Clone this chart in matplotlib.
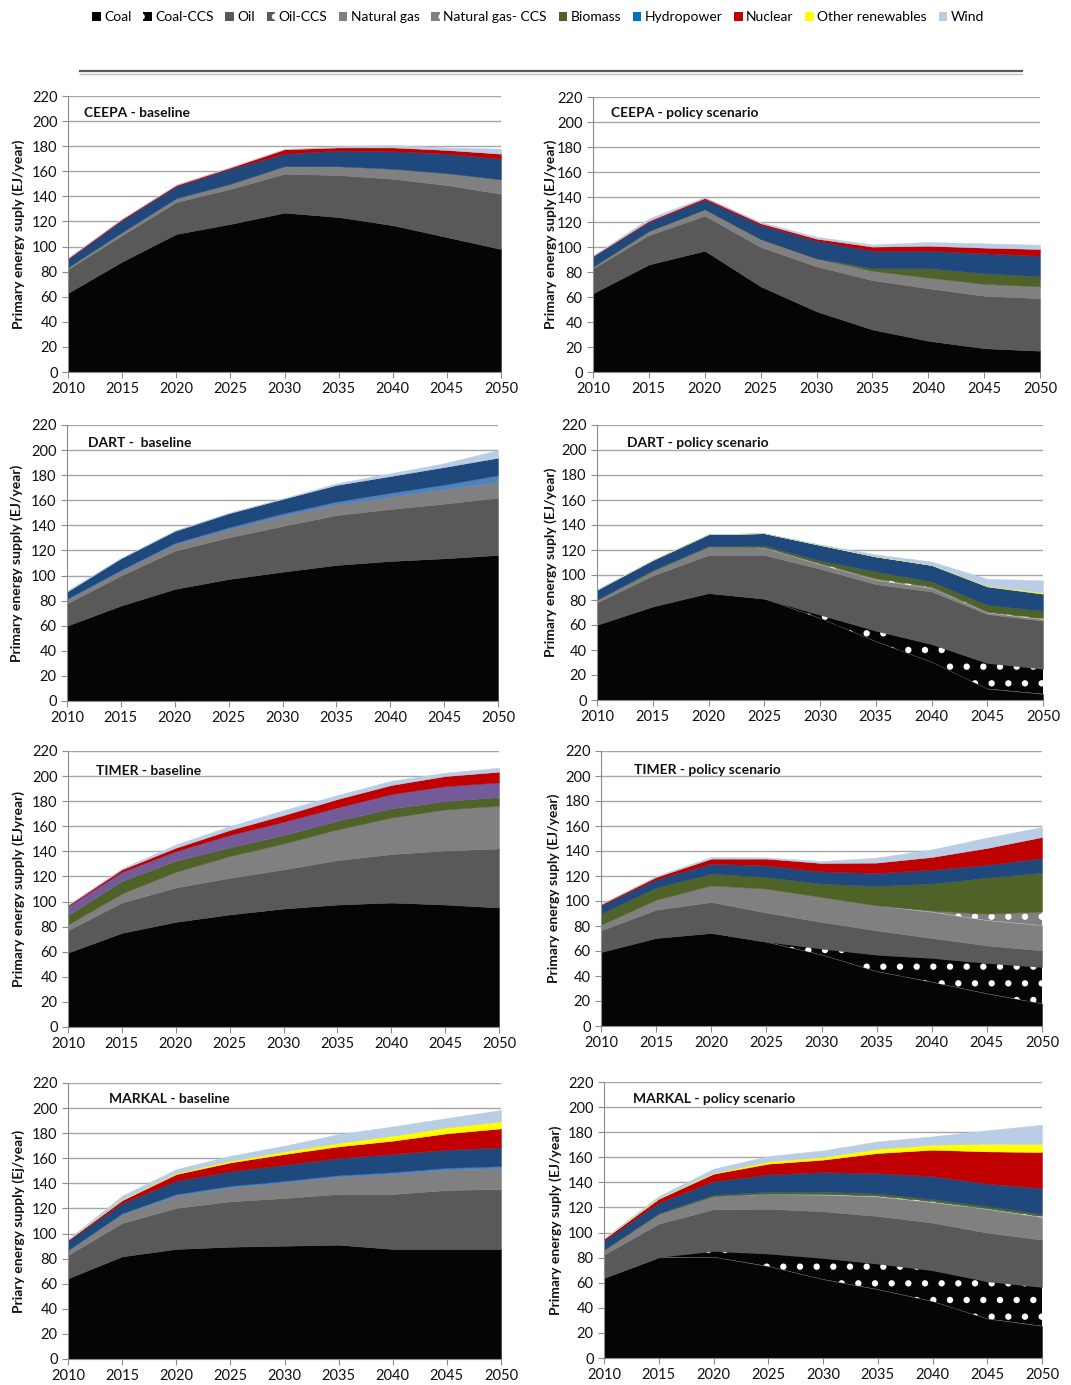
import matplotlib
matplotlib.use("Agg")
import matplotlib.hatch as mhatch
import matplotlib.pyplot as plt
from matplotlib.lines import Line2D
from matplotlib.patches import Patch

plt.rcParams["font.family"] = ["Lato", "DejaVu Sans"]
plt.rcParams["hatch.linewidth"] = 0.0

# larger dots than the stock "." hatch, closer to the Excel dot pattern
mhatch.SmallFilledCircles.size = 0.19

YEARS = [2010, 2015, 2020, 2025, 2030, 2035, 2040, 2045, 2050]

# stacked layers, bottom to top (EJ/year)
CEEPA_BASELINE = {
    "Coal": [63, 88, 110, 118, 127, 123.5, 117, 107.5, 98],
    "Oil": [19, 21, 25.5, 28, 31, 33.5, 37, 41.5, 44],
    "Natural gas": [1.5, 2.5, 3, 4, 6, 7, 8, 9.5, 11.5],
    "Hydropower": [6.5, 9.5, 9.5, 12, 10, 12.5, 14, 15.5, 16.5],
    "Nuclear": [0.7, 1, 1, 1, 3.5, 2.5, 3, 3, 4],
    "Wind": [0.3, 0.3, 0.5, 0.5, 0.5, 1, 2, 2, 4],
}
CEEPA_POLICY = {
    "Coal": [63, 86, 97, 68.5, 48.5, 34, 25, 19, 17],
    "Oil": [20, 23.5, 28, 31.5, 36, 39.5, 42, 42, 42],
    "Natural gas": [1.5, 3.5, 5.4, 6.5, 6.5, 7.5, 8.5, 9.5, 9.5],
    "Biomass": [0, 0, 0, 0, 0, 2, 7.5, 8.5, 8],
    "Hydropower": [8, 7, 7.6, 11, 14, 14, 14, 16, 16.5],
    "Nuclear": [0.3, 1, 1.2, 1.5, 1.7, 3.3, 4, 4.5, 5.4],
    "Wind": [0.5, 2, 0.8, 1, 1.5, 1.7, 3, 3.5, 3.4],
}
DART_BASELINE = {
    "Coal": [60, 76, 89.3, 97.2, 103, 108.4, 111.6, 113.7, 116.4],
    "Oil": [17.8, 24, 30.5, 33.2, 36.5, 39.8, 41.4, 43.6, 45.6],
    "Natural gas": [3.2, 3.9, 5.1, 6.6, 8.2, 8.5, 9.9, 11.7, 12.8],
    "Hydro light": [0.5, 0.6, 1.1, 1.5, 1.8, 2.3, 3.1, 3.5, 5.2],
    "Hydropower": [5.6, 9.2, 9.5, 11.1, 11.5, 13.2, 13.3, 14, 13.9],
    "Wind": [0.9, 0.3, 0.5, 0.4, 0.5, 1.3, 2.2, 3, 6.1],
}
DART_POLICY = {
    "Coal": [60.2, 74.8, 85.5, 81, 65.5, 46.9, 30.4, 9, 4.8],
    "Coal-CCS": [0, 0, 0, 0, 2.7, 8.5, 14.3, 20.6, 20.2],
    "Oil": [17.8, 24.8, 30.5, 35, 36.8, 37.3, 42.1, 39.1, 38.4],
    "Natural gas": [2.2, 3.7, 6.8, 5.8, 3.5, 3.3, 2.5, 1.1, 1.1],
    "Natural gas- CCS": [0, 0, 0, 0.5, 1, 1.5, 1.5, 1, 1],
    "Biomass": [0.3, 0.7, 0.5, 1.3, 2.1, 5.3, 4, 5.2, 5.9],
    "Hydropower": [7.7, 8, 9.3, 9.8, 12.4, 12, 13.2, 14.8, 13.6],
    "Other renewables": [0, 0, 0, 0, 0, 0, 0, 0.3, 1],
    "Wind": [0.3, 0, 0, 0, 0.5, 1.7, 2.8, 5.9, 9.7],
}
TIMER_BASELINE = {
    "Coal": [59.3, 75, 83.8, 89.7, 94.4, 97.6, 99.2, 97.6, 95.2],
    "Oil": [17.8, 24.2, 27.4, 29.2, 31.2, 35.4, 38.6, 43.1, 47.1],
    "Natural gas": [4.6, 7.2, 12.5, 17.3, 20.7, 24.5, 29.2, 32.7, 34.1],
    "Biomass": [7.4, 9.9, 8.8, 6.9, 6.7, 6.9, 7.2, 6.7, 6.9],
    "Purple": [7.2, 7.4, 7.7, 9.9, 10.6, 10.6, 11.5, 11.9, 11.7],
    "Nuclear": [0.8, 1.9, 2.7, 4, 5.3, 6.7, 7.2, 8, 8.5],
    "Wind": [0.4, 0.9, 2.6, 3.1, 4, 3.2, 3.4, 2.7, 3.2],
}
TIMER_POLICY = {
    "Coal": [59.2, 70.4, 74.4, 67.2, 57, 43.7, 35.2, 25.9, 17.9],
    "Coal-CCS": [0, 0, 0, 0.3, 4.9, 13.3, 19.2, 24.5, 29.3],
    "Oil": [17.3, 22.6, 24.8, 23.2, 21.3, 19.5, 16, 14.1, 13.3],
    "Natural gas": [4.5, 8, 13.3, 19.2, 20, 20, 20.8, 20, 20],
    "Natural gas- CCS": [0, 0, 0, 0, 0, 0, 1.3, 5.4, 11.2],
    "Biomass": [8.9, 9.7, 9.4, 9.3, 10.7, 15.5, 21.4, 28.8, 31],
    "Hydropower": [6.6, 6.6, 8, 9.3, 9.8, 10.4, 11.2, 10.3, 11.7],
    "Nuclear": [0.8, 1.9, 4, 5.4, 6.7, 8.3, 10.1, 13.4, 16.8],
    "Wind": [0.5, 0.8, 1.3, 1, 1.6, 4, 6.1, 8.3, 8],
}
MARKAL_BASELINE = {
    "Coal": [64.3, 81.8, 87.7, 89.5, 90.3, 91.1, 87.7, 87.7, 87.7],
    "Oil": [18.6, 26.6, 32.7, 36.2, 38, 40.4, 43.8, 47, 47.8],
    "Natural gas": [3.4, 7.2, 9.8, 11.1, 12.5, 13.8, 16, 16.2, 16.7],
    "Hydro light": [0.5, 0.6, 1.3, 1.2, 1.2, 1.2, 1.5, 1.5, 1.6],
    "Hydropower": [7.5, 8.1, 10.6, 11.6, 12.9, 13.7, 14.4, 14.4, 14.9],
    "Nuclear": [0.8, 2.4, 5.3, 7.1, 8.5, 9.3, 10.6, 13.1, 15.1],
    "Other renewables": [0, 0.1, 0.8, 1.3, 2.1, 2.7, 4, 4.7, 5.6],
    "Wind": [0.4, 3.4, 3.2, 4, 4.5, 7.1, 7.4, 7.5, 9.1],
}
MARKAL_POLICY = {
    "Coal": [63.8, 80, 80.5, 73.1, 62.7, 54.7, 45.2, 31.3, 25.5],
    "Coal-CCS": [0, 0.5, 4.8, 10.1, 17, 20.5, 24.7, 29.8, 31.1],
    "Oil": [18.6, 26.6, 33.2, 35.8, 37.2, 38, 38, 38.8, 37.7],
    "Natural gas": [3.9, 7.9, 10.6, 11.5, 13.1, 15.4, 16.2, 18.7, 17.9],
    "Natural gas- CCS": [0, 0, 0, 0.5, 1, 1, 1, 1, 1],
    "Biomass": [0.3, 0.5, 1, 1.5, 1.5, 1.5, 1.5, 1.5, 1.5],
    "Hydropower": [7.2, 8.3, 10.7, 13.9, 15.7, 16.3, 18.4, 17.9, 20.8],
    "Nuclear": [1.3, 3.2, 6.1, 8.5, 9.9, 16, 21, 25.7, 28.7],
    "Other renewables": [0, 0.3, 0.5, 1.8, 2.1, 3.4, 4, 6.1, 6.6],
    "Wind": [0.4, 1.8, 3.5, 4.3, 5.3, 5.9, 6.7, 10.7, 15.2],
}

TITLES = ["CEEPA - baseline", "CEEPA - policy scenario",
          "DART -  baseline", "DART - policy scenario",
          "TIMER - baseline", "TIMER - policy scenario",
          "MARKAL - baseline", "MARKAL - policy scenario"]
YLABELS = ["Primary energy suply (EJ/year)", "Primary energy suply (EJ/year)",
           "Primary energy supply (EJ/year)", "Primary energy suply (EJ/year)",
           "Primary energy supply (EJyrear)", "Primary energy suply (EJ/year)",
           "Priary energy supply (Ej/year)", "Primary energy suply (EJ/year)"]
PANELS = [CEEPA_BASELINE, CEEPA_POLICY, DART_BASELINE, DART_POLICY,
          TIMER_BASELINE, TIMER_POLICY, MARKAL_BASELINE, MARKAL_POLICY]

LEGEND_NAMES = ["Coal", "Coal-CCS", "Oil", "Oil-CCS", "Natural gas", "Natural gas- CCS",
                "Biomass", "Hydropower", "Nuclear", "Other renewables", "Wind"]

FILL = {
    "Coal": "#050505", "Coal-CCS": "#050505", "Oil": "#595959", "Oil-CCS": "#595959",
    "Natural gas": "#808080", "Natural gas- CCS": "#808080", "Biomass": "#4F6228",
    "Hydropower": "#1F497D", "Hydro light": "#4F81BD", "Purple": "#735A98",
    "Nuclear": "#C00000", "Other renewables": "#FFFF00", "Wind": "#B9CDE5",
}
LEGEND_COLOR = dict(FILL, **{"Hydropower": "#0070C0"})
HATCHED = {"Coal-CCS", "Oil-CCS", "Natural gas- CCS"}

W, H = 1071, 1385
# axes boxes in pixels: left, right, top, bottom
BOXES = [(68, 501, 96, 372), (593, 1040, 97, 372),
         (67, 498, 425, 701), (597, 1043, 425, 700),
         (68, 499, 751, 1027), (601, 1042, 751, 1026),
         (68, 501, 1083, 1359), (604, 1042, 1082, 1358)]
TITLE_X = [84, 611, 88, 627, 96, 634, 109, 633]
TITLE_Y = [113, 113, 443, 443, 771, 770, 1099, 1099]
YLABEL_X = [18, 550, 16, 550, 18, 553, 18, 555]


def draw_panel(fig, box, data, title, ylabel, tx, ty, lx):
    left, right, top, bottom = box
    ax = fig.add_axes([left / W, 1 - bottom / H, (right - left) / W, (bottom - top) / H])
    base = [0.0] * len(YEARS)
    for name, vals in data.items():
        upper = [b + v for b, v in zip(base, vals)]
        if name in HATCHED:
            ax.fill_between(YEARS, base, upper, facecolor=FILL[name], edgecolor="white",
                            hatch=".", linewidth=0, zorder=3)
        else:
            ax.fill_between(YEARS, base, upper, facecolor=FILL[name], edgecolor=FILL[name],
                            linewidth=0.3, zorder=3)
        base = upper
    ax.set_xlim(2010, 2050)
    ax.set_ylim(0, 220)
    ax.set_xticks(YEARS)
    ax.set_yticks(range(0, 221, 20))
    ax.grid(True, axis="y", color="#A6A6A6", linewidth=1.0, zorder=0)
    for s in ("top", "right"):
        ax.spines[s].set_visible(False)
    for s in ("left", "bottom"):
        ax.spines[s].set_color("#8C8C8C")
        ax.spines[s].set_zorder(4)
    ax.tick_params(axis="both", colors="#8C8C8C", labelcolor="#111111", labelsize=10.5,
                   length=4, direction="out")
    ax.set_ylabel(ylabel, fontsize=10, fontweight="bold", color="#111111")
    ax.yaxis.set_label_coords((lx + 7 - left) / (right - left), 0.5)
    ax.text((tx - left) / (right - left), (bottom - ty) / (bottom - top), title,
            transform=ax.transAxes, fontsize=10, fontweight="bold", va="center", ha="left",
            zorder=5, color="#111111")
    return ax


def main() -> None:
    fig = plt.figure(figsize=(W / 100, H / 100), dpi=100)
    for i, data in enumerate(PANELS):
        draw_panel(fig, BOXES[i], data, TITLES[i], YLABELS[i], TITLE_X[i], TITLE_Y[i], YLABEL_X[i])

    handles = []
    for name in LEGEND_NAMES:
        if name in HATCHED:
            handles.append(Patch(facecolor=LEGEND_COLOR[name], edgecolor="white", hatch=".",
                                 linewidth=0))
        else:
            handles.append(Patch(facecolor=LEGEND_COLOR[name], linewidth=0))
    fig.legend(handles, LEGEND_NAMES, loc="center", bbox_to_anchor=(538 / W, 1 - 17 / H),
               ncol=len(LEGEND_NAMES), frameon=False, fontsize=10, handlelength=0.6,
               handleheight=0.6, handletextpad=0.25, columnspacing=0.85)

    fig.add_artist(Line2D([80 / W, 1022 / W], [1 - 71 / H] * 2, color="#595959", linewidth=1.6))
    fig.add_artist(Line2D([80 / W, 1022 / W], [1 - 73.5 / H] * 2, color="#BFBFBF", linewidth=1.0))

    fig.savefig("out.png", dpi=100)
    plt.close(fig)


if __name__ == "__main__":
    main()
